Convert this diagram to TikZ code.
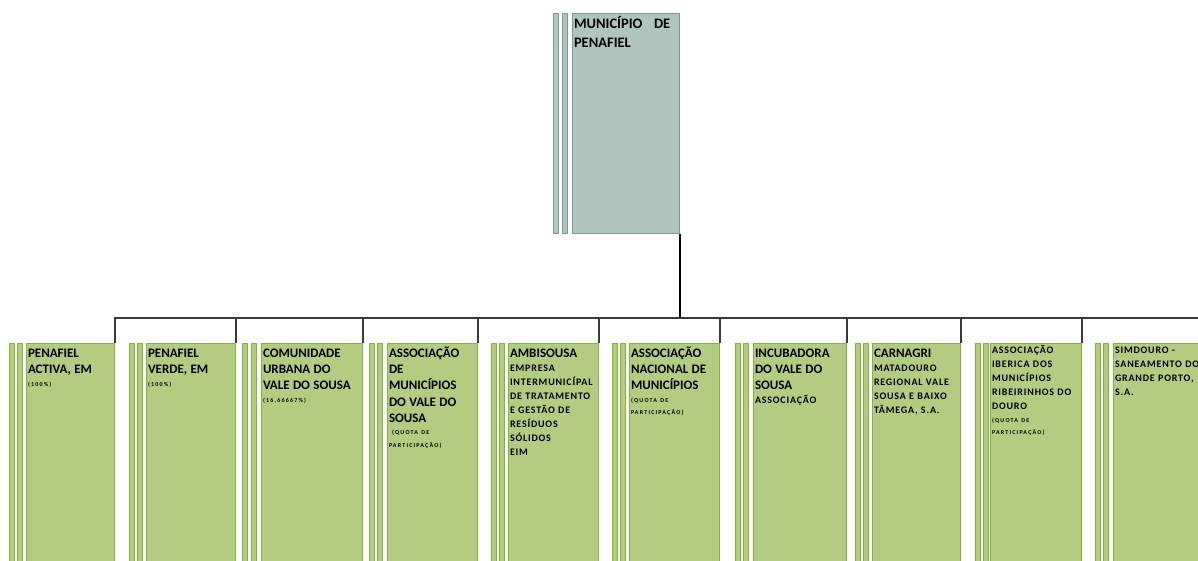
\documentclass[tikz,border=0pt]{standalone}
\usepackage{fontspec}
\setmainfont{Carlito}
\newfontfamily\widefont[LetterSpace=8]{Carlito}
\newfontfamily\tinyfont[LetterSpace=20]{Carlito}
\usetikzlibrary{positioning}
\definecolor{cTopFill}{HTML}{B0C5BD}
\definecolor{cTopEdge}{HTML}{7C9C8F}
\definecolor{cUnitFill}{HTML}{B3CC82}
\definecolor{cUnitEdge}{HTML}{82B33A}
\definecolor{cLink}{HTML}{3A3A3A}
\newcommand{\toptxt}{\bfseries\fontsize{14.5}{19}\selectfont}
\newcommand{\bigtxt}{\bfseries\fontsize{13}{16.3}\selectfont}
\newcommand{\midtxt}{\widefont\bfseries\fontsize{10}{14}\selectfont}
\newcommand{\tinytxt}{\tinyfont\bfseries\fontsize{6}{12.5}\selectfont}
\tikzset{
  topbox/.style={
    draw=cTopEdge, fill=cTopFill, line width=1pt, anchor=north west,
    inner xsep=1.5pt, inner ysep=0pt, text width=104pt, align=left,
    text height=15.3pt, text depth=204.7pt
  },
  unitbox/.style={
    draw=cUnitEdge, fill=cUnitFill, line width=1pt, anchor=north west,
    inner xsep=1.5pt, inner ysep=0pt, text width=#1, align=left,
    text height=13.7pt, text depth=230pt
  },
  stripe/.style={
    draw=#1Edge, fill=#1Fill, line width=0.8pt, inner sep=0pt,
    minimum width=5pt
  },
  stem/.style={line width=2.5pt, color=black},
  link/.style={line width=1.2pt, color=cLink},
}

\begin{document}
\begin{tikzpicture}[x=1pt, y=-1pt]
\useasboundingbox (0,0) rectangle (1198,561);
\clip (0,0) rectangle (1198,561);

% ---- Municipality ----
\node[topbox] (muni) at (572,13)
  {{\toptxt MUNIC\'IPIO\hspace{0.8em}DE\\PENAFIEL\par}};
\node[stripe=cTop, minimum height=220pt, left=4pt of muni] (munis2) {};
\node[stripe=cTop, minimum height=220pt, left=3pt of munis2] (munis1) {};

% ---- Participated entities ----
\node[unitbox=85pt] (activa) at (26,343)
  {{\bigtxt PENAFIEL\\ACTIVA, EM\par}{\tinytxt (100\%)\par}};
\node[unitbox=86pt] (verde) at (146,343)
  {{\bigtxt PENAFIEL\\VERDE, EM\par}{\tinytxt (100\%)\par}};
\node[unitbox=98pt] (comurb) at (261,343)
  {{\bigtxt COMUNIDADE\\URBANA DO\\VALE DO SOUSA\par}{\tinytxt (16,66667\%)\par}};
\node[unitbox=87pt] (amvs) at (387,343)
  {{\bigtxt ASSOCIA\c{C}\~AO\\DE\\MUNIC\'IPIOS\\DO VALE DO\\SOUSA\par}%
   {\tinytxt \hspace{3pt}(QUOTA DE\\PARTICIPA\c{C}\~AO)\par}};
\node[unitbox=87pt] (ambisousa) at (508,343)
  {{\bigtxt AMBISOUSA\par}{\midtxt EMPRESA\\INTERMUNIC\'IPAL\\DE TRATAMENTO\\
   E GEST\~AO DE\\RES\'IDUOS\\S\'OLIDOS\\EIM\par}};
\node[unitbox=87pt] (anmp) at (629,343)
  {{\bigtxt ASSOCIA\c{C}\~AO\\NACIONAL DE\\MUNIC\'IPIOS\par}%
   {\tinytxt (QUOTA DE\\PARTICIPA\c{C}\~AO)\par}};
\node[unitbox=90pt] (incub) at (753,343)
  {{\bigtxt INCUBADORA\\DO VALE DO\\SOUSA\par}{\midtxt ASSOCIA\c{C}\~AO\par}};
\node[unitbox=85pt] (carnagri) at (872,343)
  {{\bigtxt CARNAGRI\par}{\midtxt MATADOURO\\REGIONAL VALE\\SOUSA E BAIXO\\
   T\^AMEGA, S.A.\par}};
\node[unitbox=88pt, text height=10pt, text depth=233.7pt] (aimrd) at (990,343)
  {{\midtxt ASSOCIA\c{C}\~AO\\IBERICA DOS\\MUNIC\'IPIOS\\RIBEIRINHOS DO\\
   DOURO\par}{\tinytxt (QUOTA DE\\PARTICIPA\c{C}\~AO)\par}};
\node[unitbox=100pt, text height=10pt, text depth=233.7pt] (simdouro) at (1113,343)
  {{\midtxt SIMDOURO -\\SANEAMENTO DO\\GRANDE PORTO,\\S.A.\par}};

% stripes left of each entity
\node[stripe=cUnit, minimum height=243.7pt, left=3pt of activa] (activas2) {};
\node[stripe=cUnit, minimum height=243.7pt, left=2pt of activas2] (activas1) {};
\node[stripe=cUnit, minimum height=243.7pt, left=3pt of verde] (verdes2) {};
\node[stripe=cUnit, minimum height=243.7pt, left=2pt of verdes2] (verdes1) {};
\node[stripe=cUnit, minimum height=243.7pt, left=4pt of comurb] (comurbs2) {};
\node[stripe=cUnit, minimum height=243.7pt, left=3pt of comurbs2] (comurbs1) {};
\node[stripe=cUnit, minimum height=243.7pt, left=4pt of amvs] (amvss2) {};
\node[stripe=cUnit, minimum height=243.7pt, left=2pt of amvss2] (amvss1) {};
\node[stripe=cUnit, minimum height=243.7pt, left=3pt of ambisousa] (ambisousas2) {};
\node[stripe=cUnit, minimum height=243.7pt, left=2pt of ambisousas2] (ambisousas1) {};
\node[stripe=cUnit, minimum height=243.7pt, left=3pt of anmp] (anmps2) {};
\node[stripe=cUnit, minimum height=243.7pt, left=2pt of anmps2] (anmps1) {};
\node[stripe=cUnit, minimum height=243.7pt, left=4pt of incub] (incubs2) {};
\node[stripe=cUnit, minimum height=243.7pt, left=2pt of incubs2] (incubs1) {};
\node[stripe=cUnit, minimum height=243.7pt, left=3pt of carnagri] (carnagris2) {};
\node[stripe=cUnit, minimum height=243.7pt, left=2pt of carnagris2] (carnagris1) {};
\node[stripe=cUnit, minimum height=243.7pt, left=1pt of aimrd] (aimrds2) {};
\node[stripe=cUnit, minimum height=243.7pt, left=2pt of aimrds2] (aimrds1) {};
\node[stripe=cUnit, minimum height=243.7pt, left=4pt of simdouro] (simdouros2) {};
\node[stripe=cUnit, minimum height=243.7pt, left=2pt of simdouros2] (simdouros1) {};

% ---- Connectors ----
\coordinate[below=84pt of muni.south east] (hub);
\draw[stem] (muni.south east) -- (hub);
\draw[link] (hub) -| (activa.north east);
\draw[link] (hub) -| (verde.north east);
\draw[link] (hub) -| (comurb.north east);
\draw[link] (hub) -| (amvs.north east);
\draw[link] (hub) -| (ambisousa.north east);
\draw[link] (hub) -| (anmp.north east);
\draw[link] (hub) -| (incub.north east);
\draw[link] (hub) -| (carnagri.north east);
\draw[link] (hub) -| (aimrd.north east);
\draw[link] (hub) -| (simdouro.north east);

\end{tikzpicture}
\end{document}
